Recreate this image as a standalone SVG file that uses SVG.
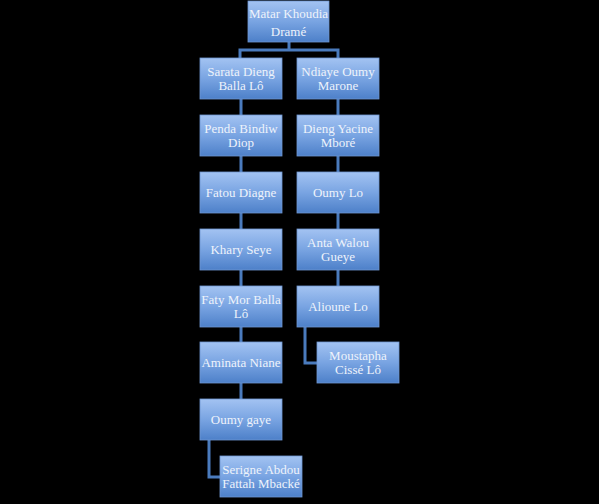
<svg xmlns="http://www.w3.org/2000/svg" width="599" height="504" viewBox="0 0 599 504">
<defs>
<linearGradient id="g" x1="0" y1="0" x2="0" y2="1">
<stop offset="0" stop-color="#a3c3f2"/>
<stop offset="0.5" stop-color="#79a4e2"/>
<stop offset="1" stop-color="#4d80c9"/>
</linearGradient>
</defs>
<style>
.b{fill:url(#g);stroke:#6f97d2;stroke-width:0.8}
.t{font-family:"Liberation Serif","DejaVu Serif",serif;font-size:13px;fill:#eef3fb;text-anchor:middle}
.c{fill:none;stroke:#4a7bbd;stroke-width:3}
</style>
<rect width="599" height="504" fill="#000"/>
<g id="connectors">
<path class="c" d="M289 42V50M240 50H338M240 48.5V58M338 48.5V58"/>
<path class="c" d="M241 99V115M241 156V172M241 213V229M241 269V286M241 327V342M241 383V399"/>
<path class="c" d="M338 99V115M338 156V172M338 213V229M338 269V286"/>
<path class="c" d="M209 440V477H220"/>
<path class="c" d="M305 327V363H317"/>
</g>
<g id="n1"><rect class="b" x="248" y="1" width="81" height="41"/><text class="t" x="288.5" y="17.5">Matar Khoudia</text><text class="t" x="288.5" y="36">Dramé</text></g>
<g id="n2"><rect class="b" x="200" y="58" width="82" height="41"/><text class="t" x="241" y="75.5">Sarata Dieng</text><text class="t" x="241" y="89.5">Balla Lô</text></g>
<g id="n3"><rect class="b" x="297" y="58" width="82" height="41"/><text class="t" x="338" y="75.5">Ndiaye Oumy</text><text class="t" x="338" y="89.5">Marone</text></g>
<g id="n4"><rect class="b" x="200" y="115" width="82" height="41"/><text class="t" x="241" y="132.5">Penda Bindiw</text><text class="t" x="241" y="146.5">Diop</text></g>
<g id="n5"><rect class="b" x="297" y="115" width="82" height="41"/><text class="t" x="338" y="132.5">Dieng Yacine</text><text class="t" x="338" y="146.5">Mboré</text></g>
<g id="n6"><rect class="b" x="200" y="172" width="82" height="41"/><text class="t" x="241" y="197">Fatou Diagne</text></g>
<g id="n7"><rect class="b" x="297" y="172" width="82" height="41"/><text class="t" x="338" y="197">Oumy Lo</text></g>
<g id="n8"><rect class="b" x="200" y="229" width="82" height="41"/><text class="t" x="241" y="254">Khary Seye</text></g>
<g id="n9"><rect class="b" x="297" y="229" width="82" height="41"/><text class="t" x="338" y="246.5">Anta Walou</text><text class="t" x="338" y="260.5">Gueye</text></g>
<g id="n10"><rect class="b" x="200" y="286" width="82" height="41"/><text class="t" x="241" y="303.5">Faty Mor Balla</text><text class="t" x="241" y="317.5">Lô</text></g>
<g id="n11"><rect class="b" x="297" y="286" width="82" height="41"/><text class="t" x="338" y="311">Alioune Lo</text></g>
<g id="n12"><rect class="b" x="200" y="342" width="82" height="41"/><text class="t" x="241" y="367">Aminata Niane</text></g>
<g id="n13"><rect class="b" x="317" y="342" width="82" height="41"/><text class="t" x="358" y="359.5">Moustapha</text><text class="t" x="358" y="373.5">Cissé Lô</text></g>
<g id="n14"><rect class="b" x="200" y="399" width="82" height="41"/><text class="t" x="241" y="424">Oumy gaye</text></g>
<g id="n15"><rect class="b" x="220" y="456" width="82" height="41"/><text class="t" x="261" y="473.5">Serigne Abdou</text><text class="t" x="261" y="487.5">Fattah Mbacké</text></g>
</svg>
